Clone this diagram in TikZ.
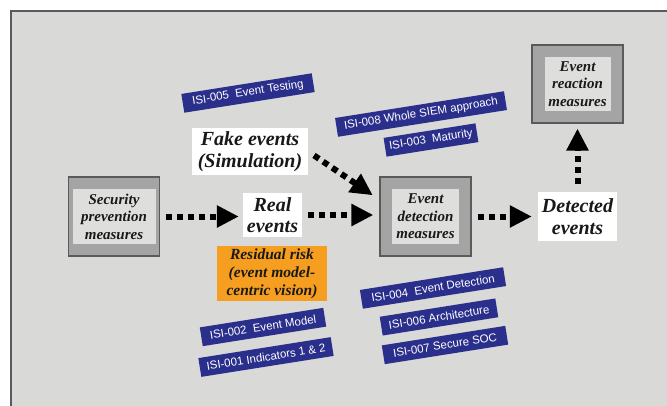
\documentclass[tikz,border=0pt]{standalone}
\usepackage{fontspec}
\setmainfont{Liberation Serif}
\newfontfamily\isifont{Liberation Sans}
\usetikzlibrary{arrows.meta}

\definecolor{panelgray}{HTML}{D9D9D7}
\definecolor{framegray}{HTML}{5A5A5A}
\definecolor{outergray}{HTML}{A4A4A4}
\definecolor{innergray}{HTML}{DEDEDC}
\definecolor{isiblue}{HTML}{2B2F8C}
\definecolor{riskorange}{HTML}{F59E20}

\begin{document}
\begin{tikzpicture}[x=1pt,y=-1pt,
  outerbox/.style={draw=framegray, line width=1.2pt, fill=outergray, minimum width=91pt, minimum height=79pt, inner sep=0pt},
  innerbox/.style={fill=innergray, inner sep=0pt, align=center, text=black!90, font=\fontsize{15}{17.5}\selectfont\bfseries\itshape},
  eventbox/.style={fill=white, inner sep=0pt, align=center, text=black!90, font=\fontsize{20}{21.5}\selectfont\bfseries\itshape},
  isi/.style={fill=isiblue, text=white, rotate=9, minimum height=19pt, inner sep=0pt, font=\isifont\fontsize{11.5}{12}\selectfont},
  flow/.style={line width=6pt, dash pattern=on 6pt off 5pt, -{Triangle[length=22pt,width=21pt]}}
]
			% panel
			\useasboundingbox (0,0) rectangle (667,405);
			\fill[white] (0,0) rectangle (667,405);
			\draw[framegray, line width=1.5pt, fill=panelgray] (11,11) rectangle (690,430);
			
			% measures
			\node[outerbox] (secout) at (114,216.5) {};
			\node[innerbox, minimum width=83pt, minimum height=55pt] (sec) at (secout) {Security\\prevention\\measures};
			\node[outerbox] (edout) at (425.5,216.5) {};
			\node[innerbox, minimum width=67pt, minimum height=55pt] (ed) at (edout) {Event\\detection\\measures};
			\node[outerbox, minimum height=78pt] (erout) at (577.5,84) {};
			\node[innerbox, minimum width=66pt, minimum height=54pt] (er) at (erout) {Event\\reaction\\measures};
			
			% events
			\node[eventbox, minimum width=116pt, minimum height=47pt] (fake) at (250,151.5) {Fake events\\(Simulation)};
			\node[eventbox, minimum width=59pt, minimum height=44pt] (real) at (272.5,215) {Real\\events};
			\node[eventbox, minimum width=79pt, minimum height=49pt] (detected) at (577.5,216.5) {Detected\\events};
			\node[fill=riskorange, inner sep=0pt, align=center, text=black!90,
			font=\fontsize{15.5}{18}\selectfont\bfseries\itshape,
			minimum width=110pt, minimum height=55pt] (risk) at (272,273.5) {Residual risk\\(event model-\\centric vision)};
			
			% flows
			\draw[flow, shorten <=6pt, shorten >=4pt] (secout.east) -- (secout.east -| real.west);
			\draw[flow, shorten <=6pt, shorten >=6pt] (real.east) -- (real.east -| edout.west);
			\draw[flow, shorten <=6pt, shorten >=6pt] (edout.east) -- (detected.west);
			\draw[flow, shorten <=8pt, shorten >=5pt] (detected.north) -- (erout.south);
			\draw[flow, shorten <=7pt, shorten >=8pt] (fake.east) -- (edout.160);
			
			% ISI labels
			\node[isi, minimum width=132pt] (isi005) at (248,93) {ISI-005\ \ Event Testing};
			\node[isi, minimum width=171pt] (isi008) at (421,114) {ISI-008 Whole SIEM approach};
			\node[isi, minimum width=93pt] (isi003) at (431,140) {ISI-003\ \ Maturity};
			\node[isi, minimum width=145pt] (isi004) at (433,288) {ISI-004\ \ Event Detection};
			\node[isi, minimum width=117pt] (isi006) at (439,317) {ISI-006 Architecture};
			\node[isi, minimum width=125pt] (isi007) at (445,345) {ISI-007 Secure SOC};
			\node[isi, minimum width=125pt] (isi002) at (263,327) {ISI-002\ \ Event Model};
			\node[isi, minimum width=134pt] (isi001) at (266,357) {ISI-001 Indicators 1 \& 2};
			
		\end{tikzpicture}
\end{document}
